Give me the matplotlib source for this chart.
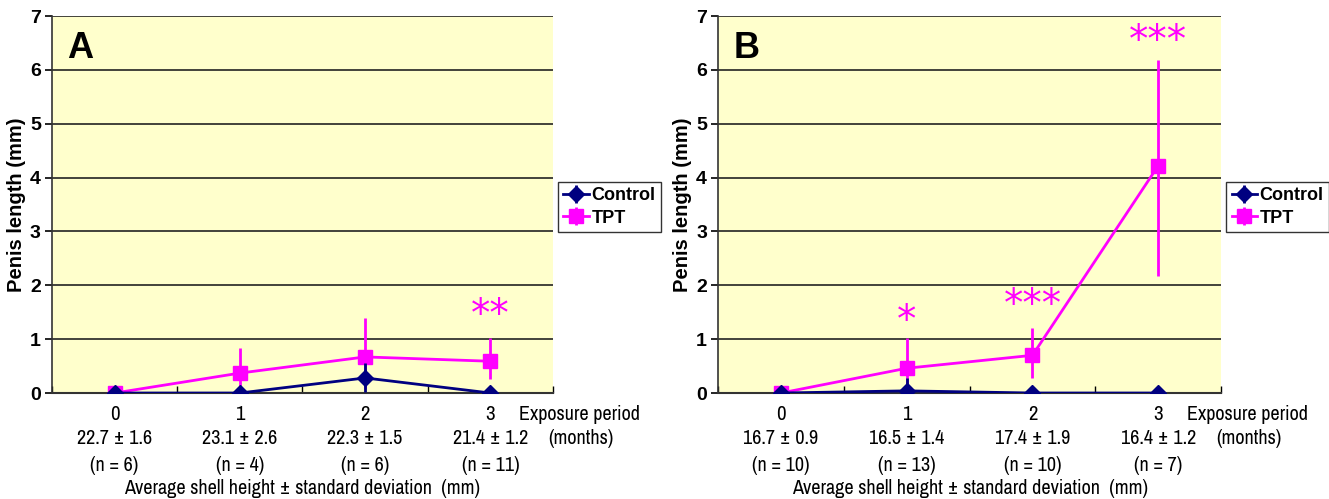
import matplotlib
matplotlib.use("Agg")
import numpy as np
import matplotlib.pyplot as plt
from matplotlib.transforms import blended_transform_factory

plt.rcParams['font.family'] = ['Liberation Sans', 'DejaVu Sans']

months = [0, 1, 2, 3]

# panel A
ctrl_a = [0, 0, 0.28, 0]
ctrl_a_err = [0, 0, 0.27, 0]
tpt_a = [0, 0.37, 0.67, 0.59]
tpt_a_lo = [0, 0.30, 0.60, 0.33]
tpt_a_hi = [0, 0.46, 0.73, 0.43]
shell_a = ['22.7 \u00b1 1.6', '23.1 \u00b1 2.6', '22.3 \u00b1 1.5', '21.4 \u00b1 1.2']
n_a = ['(n = 6)', '(n = 4)', '(n = 6)', '(n = 11)']
stars_a = {3: '**'}

# panel B
ctrl_b = [0, 0.04, 0, 0]
ctrl_b_err = [0, 0.24, 0, 0]
tpt_b = [0, 0.46, 0.70, 4.22]
tpt_b_lo = [0, 0.38, 0.43, 2.04]
tpt_b_hi = [0, 0.56, 0.51, 1.96]
shell_b = ['16.7 \u00b1 0.9', '16.5 \u00b1 1.4', '17.4 \u00b1 1.9', '16.4 \u00b1 1.2']
n_b = ['(n = 10)', '(n = 13)', '(n = 10)', '(n = 7)']
stars_b = {1: '*', 2: '***', 3: '***'}

NAVY = '#000080'
PINK = '#FF00FF'
narrow = ['Archivo Narrow', 'PT Sans Narrow', 'Liberation Sans', 'DejaVu Sans']

fig = plt.figure(figsize=(13.29, 4.99), dpi=100)


def panel(rect, letter, ctrl, ctrl_err, tpt, lo, hi, shell, ns, stars, star_y):
    ax = fig.add_axes(rect)
    ax.set_facecolor('#FFFFCC')
    ax.set_xlim(-0.5, 3.5)
    ax.set_ylim(0, 7)
    ax.set_yticks(range(8))
    ax.grid(axis='y', color='#222222', linewidth=1.2)
    ax.set_axisbelow(True)
    for s in ['top', 'right']:
        ax.spines[s].set_visible(False)
    ax.spines['left'].set_color('#333333')
    ax.spines['bottom'].set_color('#333333')
    ax.spines['left'].set_linewidth(1.2)
    ax.spines['bottom'].set_linewidth(1.5)
    ax.tick_params(axis='y', labelsize=14, length=5, width=1.2, pad=3)
    for lab in ax.get_yticklabels():
        lab.set_fontweight('bold')
    ax.set_xticks([])
    ax.set_xticks([-0.5, 0.5, 1.5, 2.5, 3.5], minor=True)
    ax.tick_params(axis='x', which='minor', direction='in', length=5, width=1)

    ax.errorbar(months, ctrl, yerr=ctrl_err, color=NAVY, marker='D', markersize=8,
                linewidth=2, elinewidth=2, capsize=0, label='Control', zorder=4)
    ax.errorbar(months, tpt, yerr=[lo, hi], color=PINK, marker='s', markersize=10,
                linewidth=2, elinewidth=2, capsize=0, label='TPT', zorder=3)

    for i, s in stars.items():
        ax.text(i, star_y[i], s, color=PINK, fontsize=28, ha='center', va='center',
                family=['DejaVu Sans'])

    ax.text(0.03, 0.915, letter, transform=ax.transAxes, fontsize=26,
            fontweight='bold', ha='left', va='center')
    ax.set_ylabel('Penis length (mm)', fontsize=14.5, fontweight='bold', labelpad=3)

    tr = blended_transform_factory(ax.transData, ax.transAxes)
    for i in months:
        ax.text(i, -0.058, str(i), transform=tr, ha='center', va='center',
                fontsize=15, family=narrow)
        ax.text(i, -0.12, shell[i], transform=tr, ha='center', va='center',
                fontsize=14.5, family=narrow)
        ax.text(i, -0.193, ns[i], transform=tr, ha='center', va='center',
                fontsize=14.5, family=narrow)
    ax.text(3.23, -0.058, 'Exposure period', transform=tr, ha='left', va='center',
            fontsize=14.5, family=narrow)
    ax.text(3.72, -0.12, '(months)', transform=tr, ha='center', va='center',
            fontsize=14.5, family=narrow)
    ax.text(0.5, -0.252, 'Average shell height \u00b1 standard deviation  (mm)',
            transform=ax.transAxes, ha='center', va='center', fontsize=14.5, family=narrow)

    leg = ax.legend(loc='upper left', bbox_to_anchor=(1.01, 0.56), borderaxespad=0,
                    frameon=True, fancybox=False, edgecolor='black', handlelength=1.4,
                    handletextpad=0.15, borderpad=0.3, labelspacing=0.3,
                    prop={'weight': 'bold', 'size': 13})
    leg.get_frame().set_linewidth(1)
    return ax


panel([0.0391, 0.2124, 0.377, 0.7555], 'A', ctrl_a, ctrl_a_err, tpt_a,
      tpt_a_lo, tpt_a_hi, shell_a, n_a, stars_a, {3: 1.45})
panel([0.5403, 0.2124, 0.3785, 0.7555], 'B', ctrl_b, ctrl_b_err, tpt_b,
      tpt_b_lo, tpt_b_hi, shell_b, n_b, stars_b, {1: 1.33, 2: 1.63, 3: 6.53})

fig.savefig('out.png', dpi=100)
